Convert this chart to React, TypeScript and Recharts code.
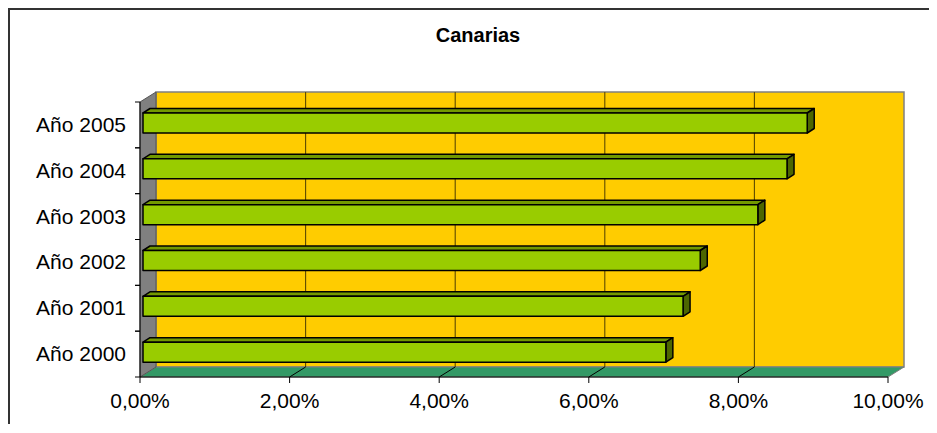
import React from "react";
import {
  BarChart, Bar, XAxis, YAxis, CartesianGrid, ReferenceArea,
} from "recharts";

// values (share, 0..1)
const YEARS = ["Año 2000", "Año 2001", "Año 2002", "Año 2003", "Año 2004", "Año 2005"];
const SHARE = [0.0699, 0.0722, 0.0745, 0.0822, 0.0861, 0.0888];
const X_TICKS = [0, 0.02, 0.04, 0.06, 0.08, 0.1];
const TITLE = "Canarias";

const data = YEARS.map((year, i) => ({ year, share: SHARE[i] }));

// 3d look (excel style)
const DEPTH_X = 16;
const DEPTH_Y = 10;
const FONT = '"Liberation Sans", Arial, sans-serif';
const LABEL_SIZE = 21;

const fmtPct = (v: number) => (v * 100).toFixed(2).replace(".", ",") + "%";

// walls + floor behind the bars
function Frame(props: any) {
  const { x, y, width, height } = props;
  const r = x + width;
  const b = y + height;
  return (
    <g>
      <rect
        x={x + DEPTH_X} y={y - DEPTH_Y} width={width} height={height}
        fill="#FFCC00" stroke="#808080" strokeWidth={1.5}
      />
      <polygon
        points={`${x},${b} ${x + DEPTH_X},${b - DEPTH_Y} ${r + DEPTH_X},${b - DEPTH_Y} ${r},${b}`}
        fill="#339966" stroke="#808080" strokeWidth={1}
      />
      <polygon
        points={`${x},${y} ${x + DEPTH_X},${y - DEPTH_Y} ${x + DEPTH_X},${b - DEPTH_Y} ${x},${b}`}
        fill="#808080" stroke="#555" strokeWidth={1}
      />
    </g>
  );
}

// grid lines sit on the back wall, plus the little diagonals on the floor
function WallLine(props: any) {
  const { x1, y1, x2, y2, index } = props;
  if (index === 0 || index === X_TICKS.length - 1) return <g key={props.key} />;
  return (
    <g key={props.key}>
      <line
        x1={x1 + DEPTH_X} y1={y1 - DEPTH_Y} x2={x2 + DEPTH_X} y2={y2 - DEPTH_Y}
        stroke="#5c4a00" strokeWidth={1.1}
      />
      <line x1={x2} y1={y2} x2={x2 + DEPTH_X} y2={y2 - DEPTH_Y} stroke="#000" strokeWidth={1} />
    </g>
  );
}

function Bar3D(props: any) {
  const { x, y, width, height } = props;
  if (!width || width <= 0) return null;
  const fx = x + 3;
  const fy = y - 2;
  const dx = 7;
  const dy = 4.5;
  const rx = fx + width;
  return (
    <g stroke="#000" strokeWidth={1.5} strokeLinejoin="round">
      <polygon points={`${fx},${fy} ${fx + dx},${fy - dy} ${rx + dx},${fy - dy} ${rx},${fy}`} fill="#739900" />
      <polygon points={`${rx},${fy} ${rx + dx},${fy - dy} ${rx + dx},${fy + height - dy} ${rx},${fy + height}`} fill="#4d6600" />
      <rect x={fx} y={fy} width={width} height={height} fill="#99CC00" />
    </g>
  );
}

function YTick(props: any) {
  const { x, y, payload } = props;
  const off = payload && payload.offset ? payload.offset : 22.9;
  return (
    <g>
      <line x1={x - 5} y1={y - off} x2={x} y2={y - off} stroke="#000" />
      <line x1={x - 5} y1={y + off} x2={x} y2={y + off} stroke="#000" />
      <text x={x - 14} y={y + 7} textAnchor="end" fontSize={LABEL_SIZE} fontFamily={FONT} fill="#000">
        {payload.value}
      </text>
    </g>
  );
}

function XTick(props: any) {
  const { x, y, payload } = props;
  return (
    <text x={x} y={y + 25} textAnchor="middle" fontSize={LABEL_SIZE} fontFamily={FONT} fill="#000">
      {fmtPct(payload.value)}
    </text>
  );
}

export default function App() {
  return (
    <div style={{ position: "relative", width: 928, height: 416, overflow: "hidden", background: "#fff" }}>
      <div
        style={{
          position: "absolute", left: 0, top: 0, width: 2000, height: 2000,
          borderTop: "2px solid #333", borderLeft: "2px solid #333",
        }}
      />
      <div style={{ position: "absolute", left: 1, top: 1 }}>
        <BarChart
          width={927}
          height={415}
          data={data}
          layout="vertical"
          margin={{ top: 93, right: 48, bottom: 0, left: 0 }}
          barSize={20}
        >
          <ReferenceArea x1={0} x2={0.1} shape={<Frame />} ifOverflow="visible" zIndex={100} />
          <CartesianGrid horizontal={false} vertical={WallLine} zIndex={150} />
          <XAxis
            type="number"
            domain={[0, 0.1]}
            ticks={X_TICKS}
            height={47}
            tickSize={6}
            tickMargin={0}
            tick={<XTick />}
            axisLine={{ stroke: "#000" }}
            tickLine={{ stroke: "#000" }}
            interval={0}
          />
          <YAxis
            type="category"
            dataKey="year"
            reversed
            width={131}
            tickSize={0}
            tickMargin={0}
            tickLine={false}
            axisLine={{ stroke: "#000" }}
            tick={<YTick />}
            interval={0}
          />
          <Bar dataKey="share" shape={<Bar3D />} isAnimationActive={false} />
        </BarChart>
      </div>
      <svg
        width={927} height={60}
        style={{ position: "absolute", left: 1, top: 1, pointerEvents: "none" }}
      >
        <text x={469} y={33} textAnchor="middle" fontSize={20} fontWeight="bold" fontFamily={FONT} fill="#000">
          {TITLE}
        </text>
      </svg>
    </div>
  );
}
